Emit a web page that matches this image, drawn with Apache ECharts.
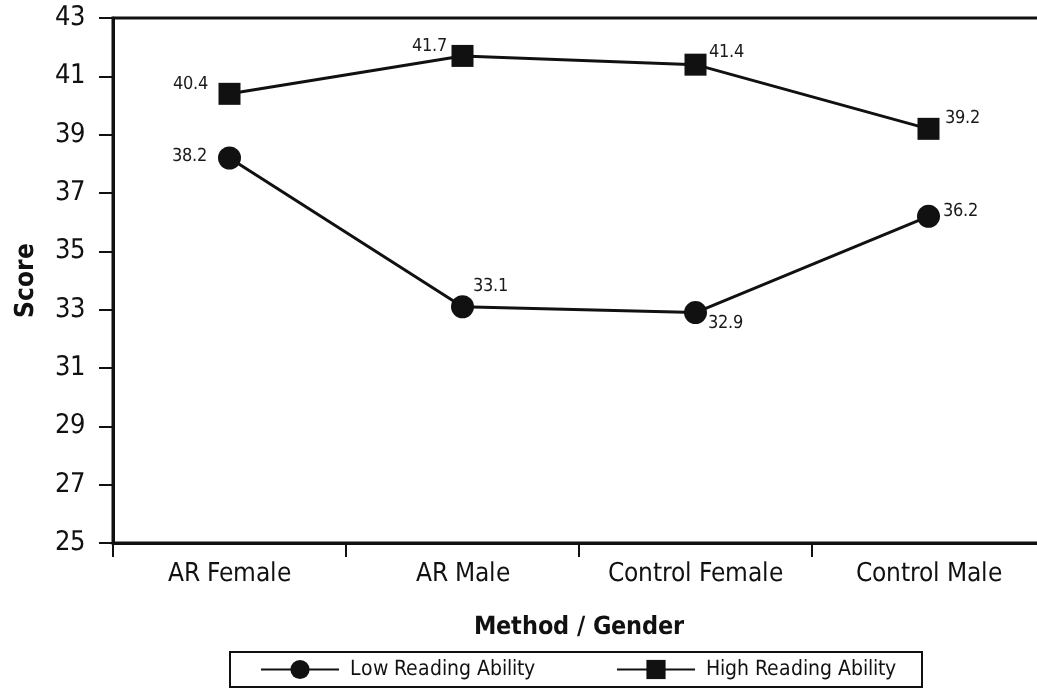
<!DOCTYPE html>
<html>
<head>
<meta charset="utf-8">
<script src="https://cdn.jsdelivr.net/npm/echarts@6/dist/echarts.min.js"></script>
<style>
@font-face { font-family: 'NarrowX'; font-weight: 400; src: local('Liberation Sans Narrow'), local('LiberationSansNarrow'), local('LiberationSansNarrow-Regular'), local('DejaVu Sans Condensed'), local('DejaVuSansCondensed'); }
@font-face { font-family: 'NarrowX'; font-weight: 700; src: local('Liberation Sans Narrow Bold'), local('LiberationSansNarrow-Bold'), local('DejaVu Sans Condensed Bold'), local('DejaVuSansCondensed-Bold'); }
html,body{margin:0;padding:0;background:#fff;}
#chart{width:1037px;height:694px;}
#probe{position:absolute;left:-9999px;font-family:NarrowX;}
</style>
</head>
<body>
<div id="chart"></div>
<span id="probe">x<b>x</b></span>
<script>
const categories = ['AR Female', 'AR Male', 'Control Female', 'Control Male'];
const lowReading = [38.2, 33.1, 32.9, 36.2];
const highReading = [40.4, 41.7, 41.4, 39.2];
const yTicks = { min: 25, max: 43, interval: 2 };
const seriesNames = ['Low Reading Ability', 'High Reading Ability'];

const FONT = "NarrowX, 'Liberation Sans Narrow', sans-serif";

// label placement per point (style only)
const lowLabelPlace = [
  { position: 'left', offset: [-6, -2] },
  { position: 'right', offset: [-6, -20] },
  { position: 'right', offset: [-4, 11] },
  { position: 'right', offset: [-2, -5] }
];
const highLabelPlace = [
  { position: 'left', offset: [-6, -10] },
  { position: 'left', offset: [0, -10] },
  { position: 'right', offset: [-3, -12] },
  { position: 'right', offset: [0, -11] }
];

function buildData(values, places) {
  return values.map((v, i) => ({
    value: v,
    label: { position: places[i].position, offset: places[i].offset }
  }));
}

function draw() {
  const labelStyle = {
    show: true,
    color: '#1a1a1a',
    fontFamily: FONT,
    fontSize: 18,
    distance: 5,
    formatter: p => p.value.toFixed(1)
  };

  const chart = echarts.init(document.getElementById('chart'), null, { renderer: 'canvas' });
  chart.setOption({
    animation: false,
    backgroundColor: '#fff',
    grid: {
      left: 113, top: 18, bottom: 151, right: -8,
      outerBoundsMode: 'none',
      containLabel: false,
      show: true, borderColor: '#111', borderWidth: 3, backgroundColor: 'transparent'
    },
    legend: {
      left: 230, top: 652,
      data: seriesNames,
      orient: 'horizontal',
      itemWidth: 78, itemHeight: 24,
      itemGap: 81,
      padding: [7, 26, 7, 30],
      borderColor: '#111', borderWidth: 2,
      textStyle: { fontFamily: FONT, fontSize: 21, color: '#111', padding: [0, 0, 0, 6] }
    },
    xAxis: {
      type: 'category',
      data: categories,
      boundaryGap: true,
      name: 'Method / Gender',
      nameLocation: 'middle',
      nameGap: 72,
      nameTextStyle: { fontFamily: FONT, fontSize: 25, fontWeight: 'bold', color: '#111' },
      axisLine: { lineStyle: { color: '#111', width: 3 } },
      axisTick: { show: true, length: 14, interval: 0, lineStyle: { color: '#111', width: 2 } },
      axisLabel: { fontFamily: FONT, fontSize: 26, color: '#111', margin: 18, interval: 0 },
      splitLine: { show: false }
    },
    yAxis: {
      type: 'value',
      min: yTicks.min, max: yTicks.max, interval: yTicks.interval,
      name: 'Score',
      nameLocation: 'middle',
      nameGap: 74,
      nameRotate: 90,
      nameTextStyle: { fontFamily: FONT, fontSize: 26, fontWeight: 'bold', color: '#111' },
      axisLine: { show: true, lineStyle: { color: '#111', width: 3 } },
      axisTick: { show: true, length: 14, lineStyle: { color: '#111', width: 2 } },
      axisLabel: { fontFamily: FONT, fontSize: 27, color: '#111', margin: 28 },
      splitLine: { show: false }
    },
    series: [
      {
        name: seriesNames[0],
        type: 'line',
        data: buildData(lowReading, lowLabelPlace),
        symbol: 'circle',
        symbolSize: 23,
        lineStyle: { color: '#111', width: 3 },
        itemStyle: { color: '#111' },
        label: labelStyle
      },
      {
        name: seriesNames[1],
        type: 'line',
        data: buildData(highReading, highLabelPlace),
        symbol: 'rect',
        symbolSize: 22,
        lineStyle: { color: '#111', width: 3 },
        itemStyle: { color: '#111' },
        label: labelStyle
      }
    ]
  });
}

Promise.all([
  document.fonts.load("400 30px NarrowX"),
  document.fonts.load("700 30px NarrowX")
]).then(draw, draw);
</script>
</body>
</html>
